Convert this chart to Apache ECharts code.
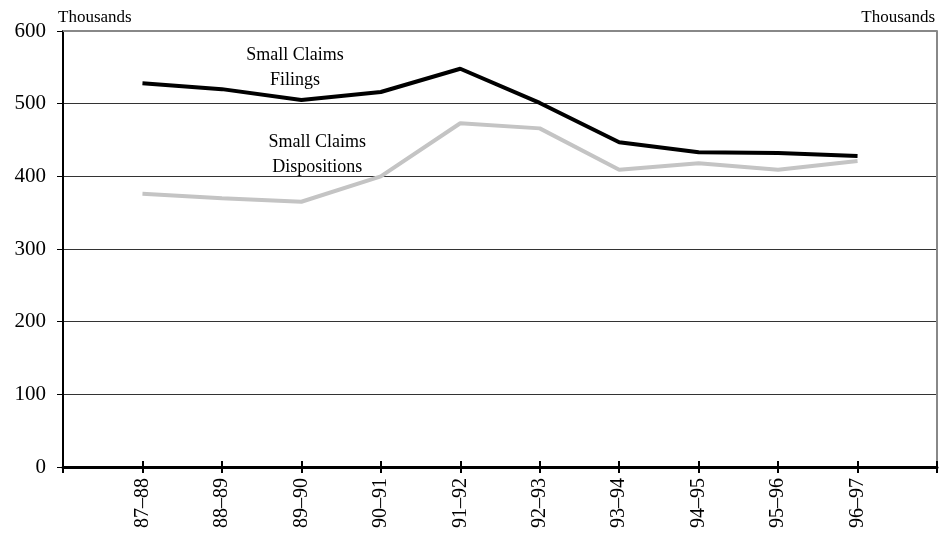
<!DOCTYPE html>
<html><head><meta charset="utf-8">
<script src="https://cdn.jsdelivr.net/npm/echarts@6/dist/echarts.min.js"></script>
<style>html,body{margin:0;padding:0;background:#fff}#c{width:939px;height:542px}</style>
</head><body><div id="c"></div>
<script>
const categories = ['', '87–88', '88–89', '89–90', '90–91', '91–92', '92–93', '93–94', '94–95', '95–96', '96–97', ''];
const filings = [null, 528, 520, 505, 516, 548, 501, 447, 433, 432, 428, null];
const dispositions = [null, 376, 370, 365, 400, 473, 466, 409, 418, 409, 421, null];
const yTicks = [0, 100, 200, 300, 400, 500, 600];
const annotations = [
  {lines: ['Small Claims', 'Filings'], x: 2.92, y: 550},
  {lines: ['Small Claims', 'Dispositions'], x: 3.2, y: 430}
];
const FONT = '"Liberation Serif", "Times New Roman", serif';
const chart = echarts.init(document.getElementById('c'));
const option = {
  backgroundColor: '#fff',
  animation: false,
  grid: {left: 63, right: 2, top: 31, bottom: 75, show: false},
  xAxis: [{
    type: 'category', data: categories, boundaryGap: false,
    axisLine: {lineStyle: {color: '#000', width: 3}},
    axisTick: {show: true, length: 6, lineStyle: {color: '#000', width: 2}},
    axisLabel: {rotate: 90, interval: 0, fontFamily: FONT, fontSize: 20, color: '#000', margin: 11},
    splitLine: {show: false}, z: 5
  }, {
    type: 'category', data: categories, boundaryGap: false, position: 'bottom',
    axisLine: {show: false},
    axisTick: {show: true, inside: true, length: 6, lineStyle: {color: '#000', width: 2}},
    axisLabel: {show: false}, splitLine: {show: false}
  }],
  yAxis: [{
    type: 'value', min: 0, max: 600, interval: 100,
    axisLine: {show: true, lineStyle: {color: '#000', width: 2}},
    axisTick: {show: true, length: 6, lineStyle: {color: '#000', width: 1}},
    axisLabel: {fontFamily: FONT, fontSize: 21, color: '#000', margin: 17,
      formatter: v => yTicks.includes(v) ? String(v) : ''},
    splitLine: {show: true, lineStyle: {color: '#333', width: 1}}
  }, {
    type: 'value', min: 0, max: 600, interval: 100, position: 'right',
    axisLine: {show: true, lineStyle: {color: '#888', width: 2}},
    axisTick: {show: false}, axisLabel: {show: false}, splitLine: {show: false}
  }],
  series: [{
    name: 'Small Claims Dispositions', type: 'line', data: dispositions,
    symbol: 'none', lineStyle: {color: '#c4c4c4', width: 4}, z: 3
  }, {
    name: 'Small Claims Filings', type: 'line', data: filings,
    symbol: 'none', lineStyle: {color: '#000', width: 4}, z: 4
  }],
  graphic: []
};
chart.setOption(option);
const g = [];
const tl = chart.convertToPixel({gridIndex: 0}, [0, 600]);
const tr = chart.convertToPixel({gridIndex: 0}, [11, 600]);
g.push({type: 'line', shape: {x1: tl[0], y1: tl[1], x2: tr[0], y2: tr[1]}, style: {stroke: '#888', lineWidth: 2}, z: 10});
g.push({type: 'text', left: 58, top: 9, style: {text: 'Thousands', font: '17px ' + FONT, fill: '#000'}});
g.push({type: 'text', right: 4, top: 9, style: {text: 'Thousands', font: '17px ' + FONT, fill: '#000'}});
annotations.forEach(a => {
  const i = Math.floor(a.x), f = a.x - i;
  const p0 = chart.convertToPixel({gridIndex: 0}, [i, a.y]);
  const p1 = chart.convertToPixel({gridIndex: 0}, [i + 1, a.y]);
  const px = p0[0] + f * (p1[0] - p0[0]);
  g.push({type: 'text', x: px, y: p0[1], style: {text: a.lines.join('\n'), font: '18px ' + FONT, fill: '#000', align: 'center', verticalAlign: 'middle', lineHeight: 25}, z: 20});
});
chart.setOption({graphic: g});
</script></body></html>
